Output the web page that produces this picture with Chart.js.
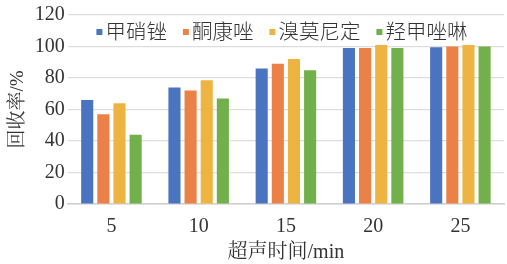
<!DOCTYPE html>
<html>
<head>
<meta charset="utf-8">
<script src="https://cdn.jsdelivr.net/npm/chart.js@4/dist/chart.umd.min.js"></script>
<style>
  html, body { margin: 0; padding: 0; background: #fff; }
  #wrap { width: 507px; height: 264px; }
</style>
</head>
<body>
<div id="wrap"><canvas id="chart" width="507" height="264"></canvas></div>
<script>
// Datos
const categories = ['5', '10', '15', '20', '25'];
const seriesNames = ['甲硝锉', '酮康唑', '溴莫尼定', '羟甲唑啉'];
const jiaxiaocuo = [66, 74, 86, 99, 99.5];
const tongkangzuo = [57, 72, 89, 99, 100];
const xiumonidin = [64, 78.5, 92, 101, 101];
const qiangjiazuolin = [44, 67, 85, 99, 100];
const yTicks = [0, 20, 40, 60, 80, 100, 120];

const colors = ['#4A74BF', '#EB8147', '#EEB441', '#72B04C'];
const serif = '"Liberation Serif", "Noto Serif CJK SC", "Noto Sans CJK SC", serif';
const sansCJK = '"Noto Sans CJK SC", sans-serif';

const allSeries = [jiaxiaocuo, tongkangzuo, xiumonidin, qiangjiazuolin];

// Leyenda dibujada dentro del área del gráfico, arriba
const insideLegend = {
  id: 'insideLegend',
  afterDatasetsDraw(chart) {
    const c = chart.ctx;
    const area = chart.chartArea;
    const fontSize = 20.5;
    const box = 6;
    const gap = 3;
    const spacing = 16;
    c.save();
    c.font = '300 ' + fontSize + 'px ' + sansCJK;
    c.textBaseline = 'middle';
    const items = chart.data.datasets.map(ds => ({
      text: ds.label, color: ds.backgroundColor, w: c.measureText(ds.label).width
    }));
    const total = items.reduce((s, it) => s + box + gap + it.w, 0) + spacing * (items.length - 1);
    let x = (area.left + area.right) / 2 - total / 2 - 4;
    const y = area.top + 16;
    items.forEach(it => {
      c.fillStyle = it.color;
      c.fillRect(x, y - box / 2 + 1, box, box);
      x += box + gap;
      c.fillStyle = '#333';
      c.fillText(it.text, x, y);
      x += it.w + spacing;
    });
    c.restore();
  }
};

const ctx = document.getElementById('chart');
new Chart(ctx, {
  type: 'bar',
  data: {
    labels: categories,
    datasets: allSeries.map((vals, i) => ({
      label: seriesNames[i],
      data: vals,
      backgroundColor: colors[i],
      borderWidth: 0,
      barPercentage: 0.75,
      categoryPercentage: 0.74
    }))
  },
  options: {
    responsive: false,
    animation: false,
    layout: { padding: { top: 5, right: 3, left: 7, bottom: 0 } },
    plugins: {
      tooltip: { enabled: false },
      legend: { display: false }
    },
    scales: {
      x: {
        grid: { display: false },
        border: { display: true, color: '#CFCFCF', width: 1.5 },
        ticks: { color: '#333', padding: 4, font: { family: serif, size: 20, lineHeight: 1.1 } },
        title: {
          display: true,
          text: '超声时间/min',
          color: '#333',
          padding: { top: 0, bottom: 0 },
          font: { family: serif, size: 20, lineHeight: 1.1 }
        }
      },
      y: {
        min: 0,
        max: 120,
        afterBuildTicks: (axis) => { axis.ticks = yTicks.map(v => ({ value: v })); },
        grid: { color: '#DDDDDD', lineWidth: 1.2, drawTicks: false },
        border: { display: false },
        ticks: { color: '#333', padding: 3, font: { family: serif, size: 20 } },
        title: {
          display: true,
          text: '回收率/%',
          color: '#333',
          padding: { top: 0, bottom: 2 },
          font: { family: serif, size: 19 }
        }
      }
    }
  },
  plugins: [insideLegend]
});
</script>
</body>
</html>
